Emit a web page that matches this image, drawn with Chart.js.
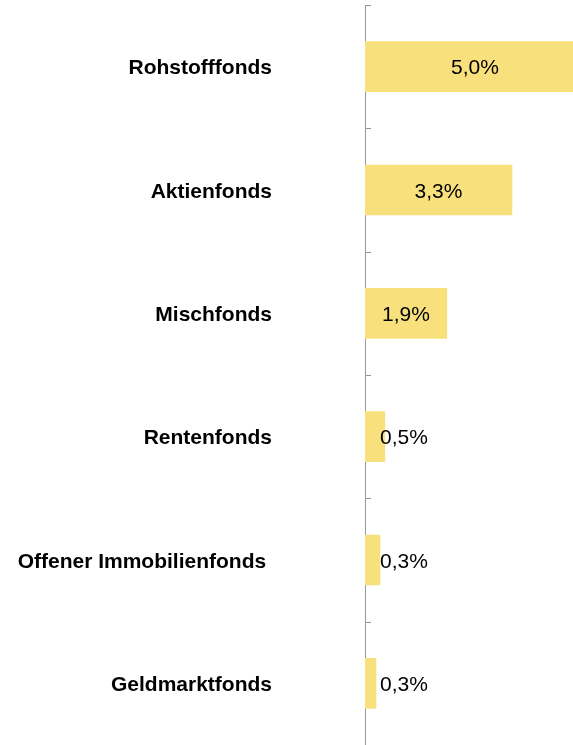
<!DOCTYPE html>
<html>
<head>
<meta charset="utf-8">
<script src="https://cdn.jsdelivr.net/npm/chart.js@4"></script>
<style>
    html, body { margin: 0; padding: 0; background: #fff; overflow: hidden; }
    canvas { display: block; }
</style>
</head>
<body>
<canvas id="fund-chart" width="573" height="745"></canvas>
<script>
const categories = ["Rohstofffonds", "Aktienfonds", "Mischfonds", "Rentenfonds", "Offener Immobilienfonds ", "Geldmarktfonds"];
const values = [5.0, 3.34, 1.86, 0.45, 0.34, 0.25];
const valueLabels = ["5,0%", "3,3%", "1,9%", "0,5%", "0,3%", "0,3%"];

const fontFamily = "'Liberation Sans', Arial, Helvetica, sans-serif";

// value labels: centred in the bar when they fit, otherwise just right of the axis
const barLabels = {
    id: "barLabels",
    afterDatasetsDraw(chart) {
        const ctx = chart.ctx;
        const meta = chart.getDatasetMeta(0);
        ctx.save();
        ctx.font = "21px " + fontFamily;
        ctx.fillStyle = "#000";
        ctx.textBaseline = "middle";
        meta.data.forEach((bar, i) => {
            const text = valueLabels[i];
            const w = ctx.measureText(text).width;
            if (bar.x - bar.base > w + 12) {
                ctx.textAlign = "center";
                ctx.fillText(text, (bar.x + bar.base) / 2, bar.y + 2);
            } else {
                ctx.textAlign = "left";
                ctx.fillText(text, bar.base + 15, bar.y + 2);
            }
        });
        ctx.restore();
    }
};

// small tick marks on the inner side of the category axis
const innerTicks = {
    id: "innerTicks",
    afterDraw(chart) {
        const ctx = chart.ctx;
        const y = chart.scales.y;
        const n = categories.length;
        const step = (y.bottom - y.top) / n;
        ctx.save();
        ctx.strokeStyle = "#999";
        ctx.lineWidth = 1;
        for (let i = 0; i <= n; i++) {
            const py = Math.round(y.top + i * step) + 0.5;
            ctx.beginPath();
            ctx.moveTo(y.right, py);
            ctx.lineTo(y.right + 6, py);
            ctx.stroke();
        }
        ctx.restore();
    }
};

const fundChart = new Chart(document.getElementById("fund-chart"), {
    type: "bar",
    data: {
        labels: categories,
        datasets: [{
            data: values,
            backgroundColor: "#F8E07D",
            borderWidth: 0,
            barThickness: 50
        }]
    },
    options: {
        indexAxis: "y",
        responsive: false,
        maintainAspectRatio: false,
        devicePixelRatio: 1,
        animation: false,
        layout: {
            padding: { top: 5, right: 0, bottom: 0, left: 0 }
        },
        plugins: {
            legend: { display: false },
            tooltip: { enabled: false }
        },
        scales: {
            x: {
                type: "linear",
                display: false,
                min: 0,
                max: 4.727
            },
            y: {
                grid: { display: false, drawTicks: false },
                border: { display: true, color: "#999", width: 1 },
                ticks: {
                    color: "#000",
                    padding: 93,
                    labelOffset: 2,
                    font: { family: fontFamily, size: 21, weight: "bold" }
                },
                afterFit: scale => {
                    scale.width = 365;
                    scale.paddingTop = 0;
                    scale.paddingBottom = 0;
                }
            }
        }
    },
    plugins: [barLabels, innerTicks]
});
</script>
</body>
</html>
